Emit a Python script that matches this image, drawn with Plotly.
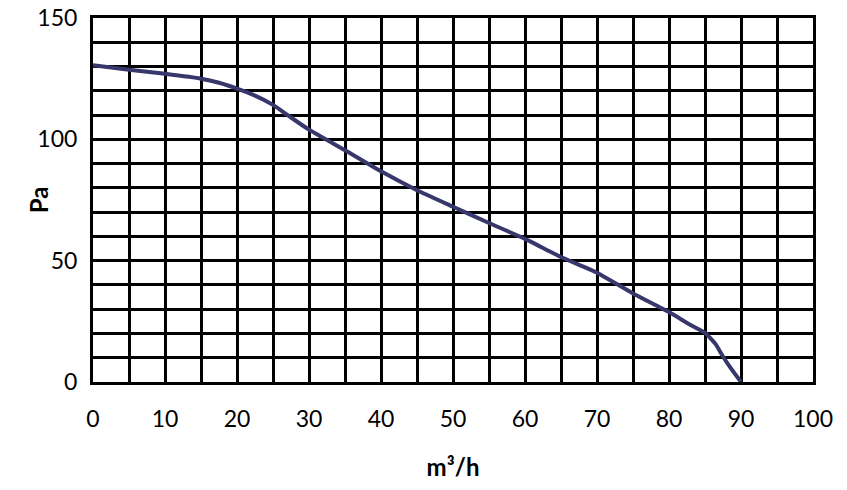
import plotly.graph_objects as go

# fan curve
flow = [0, 5, 10, 15, 17.5, 20, 22.5, 25, 27.5, 30, 35, 40, 45, 50, 55, 60, 65, 70, 75, 80, 83, 85, 86.5, 87.5, 88.5, 90]
pressure = [130.5, 128.7, 127, 125, 123.3, 120.9, 118, 114.2, 109, 104, 95.5, 86.8, 79, 72.2, 65.5, 59, 51.5, 45, 36.5, 28.8, 23.5, 20.3, 15.5, 10.5, 6, 0]

x_ticks = [0, 10, 20, 30, 40, 50, 60, 70, 80, 90, 100]
y_ticks = [0, 50, 100, 150]

font_family = "Lato, Open Sans, sans-serif"

fig = go.Figure()
fig.add_trace(go.Scatter(
    x=flow, y=pressure, mode="lines",
    line=dict(color="#37376b", width=4, shape="spline", smoothing=0.4),
    showlegend=False, hoverinfo="skip"))

grid = dict(showgrid=True, gridcolor="black", gridwidth=2.5)

# page body adds 8px, so the figure is 8px smaller than the window
fig.update_layout(
    width=839, height=482,
    margin=dict(l=85, r=34, t=10, b=108),
    paper_bgcolor="white", plot_bgcolor="white",
    font=dict(family=font_family, size=23, color="black"),
    xaxis=dict(range=[0, 100], tickvals=x_ticks, **grid,
               minor=dict(dtick=5, showgrid=True, gridcolor="black", gridwidth=2.5),
               showline=True, linecolor="black", linewidth=3, mirror=True,
               ticks="outside", ticklen=14, tickcolor="rgba(0,0,0,0)",
               zeroline=False, automargin=False, ticklabeloverflow="allow",
               title=dict(text="<b>m³/h</b>", standoff=29, font=dict(size=24))),
    yaxis=dict(range=[0, 150], tickvals=y_ticks, **grid,
               minor=dict(dtick=10, showgrid=True, gridcolor="black", gridwidth=2.5),
               showline=True, linecolor="black", linewidth=3, mirror=True,
               ticks="outside", ticklen=8, tickcolor="rgba(0,0,0,0)",
               zeroline=False, automargin=False, ticklabeloverflow="allow"),
    annotations=[dict(text="<b>Pa</b>", xref="paper", yref="paper",
                      x=-0.076, y=0.5, xanchor="center", yanchor="middle",
                      textangle=-90, showarrow=False, font=dict(size=24))],
)

fig.write_html("out.html")
